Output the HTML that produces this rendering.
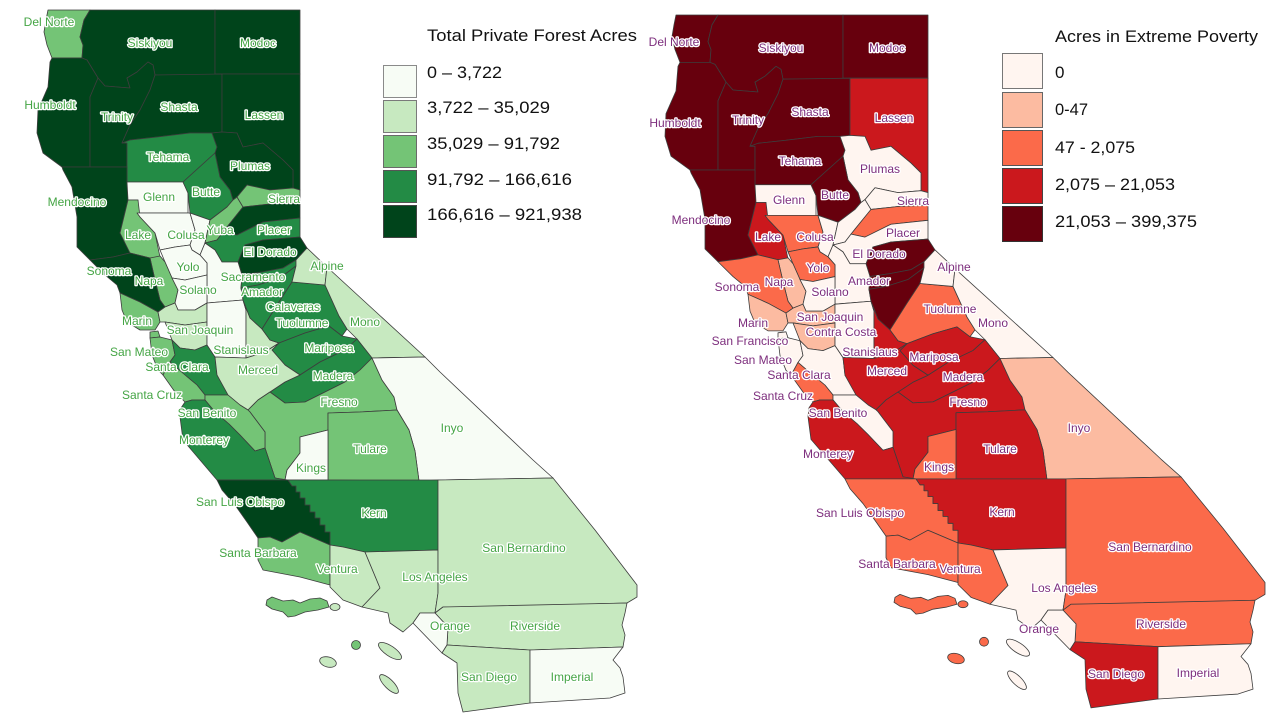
<!DOCTYPE html>
<html><head><meta charset="utf-8"><style>
html,body{margin:0;padding:0;background:#fff;}
svg{display:block;}
.lbl text{font-family:"Liberation Sans",Arial,sans-serif;font-size:12px;text-anchor:middle;paint-order:stroke;stroke:#fff;stroke-width:2.6px;stroke-linejoin:round;}
.lg text{font-family:"Liberation Sans",Arial,sans-serif;font-size:17px;fill:#111;}
</style></head><body>
<svg width="1280" height="720" viewBox="0 0 1280 720" xmlns="http://www.w3.org/2000/svg">
<defs>
<polygon id="dn" points="48,10 90,10 84,20 80,37 83,45 82,58 52,58 47,45 44,32 46,20"/>
<polygon id="sk" points="90,10 215,10 215,75 155,75 153,65 148,62 137,72 127,78 130,88 105,86 98,78 87,60 82,58 83,45 80,37 84,20"/>
<polygon id="mo" points="215,10 300,10 300,74 215,74"/>
<polygon id="hu" points="52,58 82,58 87,60 98,78 90,97 90,167 62,167 43,153 37,133 38,110 48,87 50,62"/>
<polygon id="tr" points="98,78 105,86 130,88 127,78 137,72 148,62 153,65 155,75 150,90 140,110 130,125 122,143 127,143 127,167 90,167 90,97"/>
<polygon id="sh" points="155,75 222,74 222,132 212,133 190,133 157,137 130,140 122,143 130,125 140,110 150,90"/>
<polygon id="la" points="222,74 300,74 300,190 293,188 293,170 283,160 263,143 243,147 237,133 222,132"/>
<polygon id="te" points="122,143 130,140 157,137 190,133 212,133 217,147 215,153 183,182 127,182 127,167 127,143"/>
<polygon id="pl" points="212,133 222,132 237,133 243,147 263,143 283,160 293,170 293,188 270,190 247,185 237,197 233,200 230,190 220,177 215,153 217,147"/>
<polygon id="me" points="62,167 127,167 127,182 128,200 120,233 130,253 113,257 90,260 77,247 77,217 72,187 63,170"/>
<polygon id="gl" points="127,182 183,182 188,193 188,213 137,213 138,200 128,200"/>
<polygon id="bu" points="215,153 220,177 230,190 233,200 227,207 210,220 190,213 188,193 183,182"/>
<polygon id="lk" points="128,200 138,200 140,217 155,233 160,257 150,258 130,253 120,233"/>
<polygon id="co" points="137,213 188,213 190,213 195,230 190,245 175,247 160,250 155,233 140,217"/>
<polygon id="su" points="190,213 210,220 205,243 200,255 192,250 190,245 195,230"/>
<polygon id="yu" points="210,220 227,207 233,200 237,197 243,207 227,227 217,240 205,243"/>
<polygon id="si" points="237,197 247,185 270,190 293,188 300,190 300,203 270,204 243,207"/>
<polygon id="ne" points="243,207 270,204 300,203 300,218 263,222 237,235 223,232 227,227"/>
<polygon id="pc" points="205,243 217,240 223,232 237,235 263,222 300,218 300,237 263,240 245,245 238,262 222,262 215,250"/>
<polygon id="ed" points="238,262 245,245 263,240 300,237 307,248 296,260 283,268 262,272 242,275"/>
<polygon id="sa" points="200,255 205,243 215,250 222,262 238,262 242,275 241,288 243,300 207,303 207,285 207,263"/>
<polygon id="yo" points="160,250 175,247 190,245 192,250 200,255 207,263 207,275 185,280 172,278 165,262"/>
<polygon id="na" points="150,258 160,256 165,262 172,278 178,290 175,303 165,307 160,300 155,280"/>
<polygon id="so" points="90,260 113,257 130,253 150,258 155,280 160,300 165,307 158,312 140,302 120,293 117,285 105,275"/>
<polygon id="sl" points="172,278 185,280 207,275 207,303 195,310 178,310 175,303 178,290"/>
<polygon id="ma" points="120,293 140,302 158,312 160,322 155,330 140,330 127,322 122,310"/>
<polygon id="cc" points="158,312 165,307 175,303 178,310 195,310 207,303 207,322 185,325 165,322 160,322"/>
<polygon id="al" points="165,322 185,325 207,322 207,345 195,350 180,348 172,340"/>
<polygon id="sf" points="150,332 158,331 160,337 150,338"/>
<polygon id="sm" points="150,338 160,337 172,340 175,355 170,362 163,375 158,370 152,355"/>
<polygon id="sc" points="172,340 180,348 195,350 207,345 215,357 217,375 228,380 228,395 205,395 197,385 185,375 170,362 175,355"/>
<polygon id="cz" points="163,375 170,362 185,375 197,385 205,395 205,400 192,400 185,402 175,392"/>
<polygon id="sj" points="207,303 243,300 246,310 246,358 215,357 207,345 207,322"/>
<polygon id="st" points="243,300 250,318 262,329 270,340 279,343 265,352 246,358 246,310"/>
<polygon id="am" points="242,275 262,272 283,268 296,260 296,266 280,278 258,285 241,288"/>
<polygon id="cv" points="241,288 258,285 280,278 296,266 292,282 279,302 262,329 250,318 245,305 243,300"/>
<polygon id="tu" points="262,329 279,302 292,282 325,285 339,316 347,329 342,336 329,326 305,333 279,343 270,340"/>
<polygon id="ap" points="296,260 307,248 327,267 325,285 292,282 296,266"/>
<polygon id="mn" points="327,267 425,357 372,358 357,339 347,329 339,316 325,285"/>
<polygon id="mp" points="279,343 305,333 329,326 342,336 357,339 345,350 320,362 300,375 285,365 272,350"/>
<polygon id="md" points="300,375 320,362 345,350 357,339 372,358 360,370 345,382 325,392 305,402 285,403 270,392 285,382"/>
<polygon id="mc" points="215,357 246,358 265,352 279,343 272,350 285,365 300,375 285,382 270,392 258,400 248,410 240,405 228,395 217,375"/>
<polygon id="fr" points="248,410 258,400 270,392 285,403 305,402 325,392 345,382 360,370 372,358 382,380 394,397 397,410 360,412 328,413 328,430 300,437 300,453 287,470 285,480 275,478 265,448 265,432 250,412"/>
<polygon id="in" points="372,358 425,357 440,372 533,460 553,478 438,480 419,481 415,451 409,430 397,410 394,397 382,380"/>
<polygon id="tl" points="328,413 360,412 397,410 409,430 415,451 419,481 328,480"/>
<polygon id="ki" points="300,437 328,430 328,480 285,480 287,470 300,453"/>
<polygon id="sb" points="205,395 228,395 240,405 248,410 250,412 265,432 265,448 255,451 240,435 229,424 215,412 205,400"/>
<polygon id="mt" points="185,402 192,400 205,400 215,412 229,424 240,435 255,451 265,448 275,478 288,480 217,480 200,460 183,440 180,417 181,408"/>
<polygon id="lo" points="217,480 288,480 292,486 296,486 296,492 300,492 300,498 305,498 305,505 310,505 310,512 315,512 315,518 320,518 320,525 325,525 325,532 330,532 330,545 300,532 282,542 270,537 258,538 247,522 235,505 222,490"/>
<polygon id="ke" points="288,480 438,480 438,550 365,552 343,547 330,545 330,532 325,532 325,525 320,525 320,518 315,518 315,512 310,512 310,505 305,505 305,498 300,498 300,492 296,492 296,486 292,486"/>
<polygon id="ba" points="258,538 270,537 282,542 300,532 330,545 330,585 300,577 263,570 258,560"/>
<polygon id="ve" points="330,545 343,547 365,552 380,588 362,607 343,600 330,587"/>
<polygon id="lx" points="365,552 438,550 438,593 435,613 420,613 413,623 403,632 390,623 388,613 362,607 380,588"/>
<polygon id="bd" points="438,480 553,478 595,530 637,585 637,597 627,603 480,607 443,607 435,613 438,593"/>
<polygon id="rv" points="443,607 627,603 625,613 622,625 625,635 623,647 530,650 447,645 448,627 435,613"/>
<polygon id="or" points="420,613 435,613 448,627 447,645 442,653 413,623"/>
<polygon id="sd" points="447,645 530,650 530,703 463,712 458,693 457,663 442,653"/>
<polygon id="im" points="530,650 623,647 613,660 620,668 623,677 625,693 610,698 530,703"/>
<polygon id="is1" points="267,600 272,597 283,601 293,600 300,603 310,599 320,598 327,601 329,607 318,610 305,612 295,616 288,617 283,612 272,609 266,605"/>
<ellipse id="is2" cx="335" cy="607" rx="5" ry="3.5"/>
<circle id="is3" cx="356" cy="645" r="4.5"/>
<ellipse id="is4" cx="390" cy="651" rx="13.5" ry="5" transform="rotate(34 390 651)"/>
<ellipse id="is5" cx="328" cy="662" rx="8.5" ry="5" transform="rotate(15 328 662)"/>
<ellipse id="is6" cx="389" cy="684" rx="12.5" ry="4.5" transform="rotate(45 389 684)"/>
</defs>

<!-- LEFT MAP -->
<g stroke="#3d3d3d" stroke-width="0.8" stroke-linejoin="round">
<use href="#dn" fill="#74c476"/><use href="#sk" fill="#00441b"/><use href="#mo" fill="#00441b"/>
<use href="#hu" fill="#00441b"/><use href="#tr" fill="#00441b"/><use href="#sh" fill="#00441b"/>
<use href="#la" fill="#00441b"/><use href="#te" fill="#238b45"/><use href="#pl" fill="#00441b"/>
<use href="#me" fill="#00441b"/><use href="#gl" fill="#f7fcf5"/><use href="#bu" fill="#238b45"/>
<use href="#lk" fill="#74c476"/><use href="#co" fill="#f7fcf5"/><use href="#su" fill="#f7fcf5"/>
<use href="#yu" fill="#74c476"/><use href="#si" fill="#74c476"/><use href="#ne" fill="#00441b"/>
<use href="#pc" fill="#238b45"/><use href="#ed" fill="#00441b"/><use href="#sa" fill="#f7fcf5"/>
<use href="#yo" fill="#f7fcf5"/><use href="#na" fill="#74c476"/><use href="#so" fill="#00441b"/>
<use href="#sl" fill="#f7fcf5"/><use href="#ma" fill="#74c476"/><use href="#cc" fill="#c7e9c0"/>
<use href="#al" fill="#c7e9c0"/><use href="#sf" fill="#74c476"/><use href="#sm" fill="#74c476"/>
<use href="#sc" fill="#238b45"/><use href="#cz" fill="#74c476"/><use href="#sj" fill="#f7fcf5"/>
<use href="#st" fill="#c7e9c0"/><use href="#am" fill="#238b45"/><use href="#cv" fill="#238b45"/>
<use href="#tu" fill="#238b45"/><use href="#ap" fill="#c7e9c0"/><use href="#mn" fill="#c7e9c0"/>
<use href="#mp" fill="#238b45"/><use href="#md" fill="#238b45"/><use href="#mc" fill="#c7e9c0"/>
<use href="#fr" fill="#74c476"/><use href="#in" fill="#f7fcf5"/><use href="#tl" fill="#74c476"/>
<use href="#ki" fill="#f7fcf5"/><use href="#sb" fill="#74c476"/><use href="#mt" fill="#238b45"/>
<use href="#lo" fill="#00441b"/><use href="#ke" fill="#238b45"/><use href="#ba" fill="#74c476"/>
<use href="#ve" fill="#c7e9c0"/><use href="#lx" fill="#c7e9c0"/><use href="#bd" fill="#c7e9c0"/>
<use href="#rv" fill="#c7e9c0"/><use href="#or" fill="#f7fcf5"/><use href="#sd" fill="#c7e9c0"/>
<use href="#im" fill="#f7fcf5"/>
<use href="#is1" fill="#74c476"/><use href="#is2" fill="#c7e9c0"/><use href="#is3" fill="#74c476"/>
<use href="#is4" fill="#c7e9c0"/><use href="#is5" fill="#c7e9c0"/><use href="#is6" fill="#c7e9c0"/>
</g>

<!-- RIGHT MAP -->
<g transform="matrix(1 0 0 0.987 628 5.13)" stroke="#3d3d3d" stroke-width="0.8" stroke-linejoin="round">
<use href="#dn" fill="#67000d"/><use href="#sk" fill="#67000d"/><use href="#mo" fill="#67000d"/>
<use href="#hu" fill="#67000d"/><use href="#tr" fill="#67000d"/><use href="#sh" fill="#67000d"/>
<use href="#la" fill="#cb181d"/><use href="#te" fill="#67000d"/><use href="#pl" fill="#fff5f0"/>
<use href="#me" fill="#67000d"/><use href="#gl" fill="#fff5f0"/><use href="#bu" fill="#67000d"/>
<use href="#lk" fill="#cb181d"/><use href="#co" fill="#fb6a4a"/><use href="#su" fill="#fff5f0"/>
<use href="#yu" fill="#fff5f0"/><use href="#si" fill="#fff5f0"/><use href="#ne" fill="#fb6a4a"/>
<use href="#pc" fill="#fff5f0"/><use href="#ed" fill="#67000d"/><use href="#sa" fill="#fff5f0"/>
<use href="#yo" fill="#fb6a4a"/><use href="#na" fill="#fcbba1"/><use href="#so" fill="#fb6a4a"/>
<use href="#sl" fill="#fff5f0"/><use href="#ma" fill="#fcbba1"/><use href="#cc" fill="#fcbba1"/>
<use href="#al" fill="#fcbba1"/><use href="#sf" fill="#fff5f0"/><use href="#sm" fill="#fff5f0"/>
<use href="#sc" fill="#fff5f0"/><use href="#cz" fill="#fb6a4a"/><use href="#sj" fill="#fff5f0"/>
<use href="#st" fill="#cb181d"/><use href="#am" fill="#67000d"/><use href="#cv" fill="#67000d"/>
<use href="#tu" fill="#fb6a4a"/><use href="#ap" fill="#fff5f0"/><use href="#mn" fill="#fff5f0"/>
<use href="#mp" fill="#cb181d"/><use href="#md" fill="#cb181d"/><use href="#mc" fill="#cb181d"/>
<use href="#fr" fill="#cb181d"/><use href="#in" fill="#fcbba1"/><use href="#tl" fill="#cb181d"/>
<use href="#ki" fill="#fb6a4a"/><use href="#sb" fill="#fff5f0"/><use href="#mt" fill="#cb181d"/>
<use href="#lo" fill="#fb6a4a"/><use href="#ke" fill="#cb181d"/><use href="#ba" fill="#fb6a4a"/>
<use href="#ve" fill="#fb6a4a"/><use href="#lx" fill="#fff5f0"/><use href="#bd" fill="#fb6a4a"/>
<use href="#rv" fill="#fb6a4a"/><use href="#or" fill="#fff5f0"/><use href="#sd" fill="#cb181d"/>
<use href="#im" fill="#fff5f0"/>
<use href="#is1" fill="#fb6a4a"/><use href="#is2" fill="#fb6a4a"/><use href="#is3" fill="#fb6a4a"/>
<use href="#is4" fill="#fff5f0"/><use href="#is5" fill="#fb6a4a"/><use href="#is6" fill="#fff5f0"/>
</g>

<!-- LEFT LABELS -->
<g class="lbl" fill="#45a545">
<text x="49" y="22" dy="0.35em">Del Norte</text>
<text x="150" y="43" dy="0.35em">Siskiyou</text>
<text x="258" y="43" dy="0.35em">Modoc</text>
<text x="50" y="105" dy="0.35em">Humboldt</text>
<text x="117" y="117" dy="0.35em">Trinity</text>
<text x="179" y="107" dy="0.35em">Shasta</text>
<text x="264" y="115" dy="0.35em">Lassen</text>
<text x="168" y="157" dy="0.35em">Tehama</text>
<text x="250" y="166" dy="0.35em">Plumas</text>
<text x="206" y="192" dy="0.35em">Butte</text>
<text x="159" y="197" dy="0.35em">Glenn</text>
<text x="284" y="199" dy="0.35em">Sierra</text>
<text x="77" y="202" dy="0.35em">Mendocino</text>
<text x="138" y="235" dy="0.35em">Lake</text>
<text x="186" y="235" dy="0.35em">Colusa</text>
<text x="220" y="230" dy="0.35em">Yuba</text>
<text x="274" y="230" dy="0.35em">Placer</text>
<text x="270" y="252" dy="0.35em">El Dorado</text>
<text x="188" y="267" dy="0.35em">Yolo</text>
<text x="109" y="271" dy="0.35em">Sonoma</text>
<text x="327" y="266" dy="0.35em">Alpine</text>
<text x="149" y="281" dy="0.35em">Napa</text>
<text x="253" y="277" dy="0.35em">Sacramento</text>
<text x="198" y="290" dy="0.35em">Solano</text>
<text x="262" y="292" dy="0.35em">Amador</text>
<text x="293" y="307" dy="0.35em">Calaveras</text>
<text x="137" y="321" dy="0.35em">Marin</text>
<text x="302" y="323" dy="0.35em">Tuolumne</text>
<text x="365" y="322" dy="0.35em">Mono</text>
<text x="200" y="330" dy="0.35em">San Joaquin</text>
<text x="139" y="352" dy="0.35em">San Mateo</text>
<text x="241" y="350" dy="0.35em">Stanislaus</text>
<text x="329" y="348" dy="0.35em">Mariposa</text>
<text x="177" y="367" dy="0.35em">Santa Clara</text>
<text x="258" y="370" dy="0.35em">Merced</text>
<text x="333" y="376" dy="0.35em">Madera</text>
<text x="152" y="395" dy="0.35em">Santa Cruz</text>
<text x="339" y="402" dy="0.35em">Fresno</text>
<text x="207" y="413" dy="0.35em">San Benito</text>
<text x="452" y="428" dy="0.35em">Inyo</text>
<text x="204" y="440" dy="0.35em">Monterey</text>
<text x="370" y="449" dy="0.35em">Tulare</text>
<text x="311" y="468" dy="0.35em">Kings</text>
<text x="240" y="502" dy="0.35em">San Luis Obispo</text>
<text x="374" y="513" dy="0.35em">Kern</text>
<text x="258" y="553" dy="0.35em">Santa Barbara</text>
<text x="524" y="548" dy="0.35em">San Bernardino</text>
<text x="337" y="569" dy="0.35em">Ventura</text>
<text x="435" y="577" dy="0.35em">Los Angeles</text>
<text x="450" y="626" dy="0.35em">Orange</text>
<text x="535" y="626" dy="0.35em">Riverside</text>
<text x="489" y="677" dy="0.35em">San Diego</text>
<text x="572" y="677" dy="0.35em">Imperial</text>
</g>

<!-- RIGHT LABELS -->
<g class="lbl" fill="#7d2e7d">
<text x="674" y="42" dy="0.35em">Del Norte</text>
<text x="781" y="48" dy="0.35em">Siskiyou</text>
<text x="887" y="48" dy="0.35em">Modoc</text>
<text x="675" y="123" dy="0.35em">Humboldt</text>
<text x="748" y="120" dy="0.35em">Trinity</text>
<text x="810" y="112" dy="0.35em">Shasta</text>
<text x="894" y="118" dy="0.35em">Lassen</text>
<text x="800" y="161" dy="0.35em">Tehama</text>
<text x="880" y="169" dy="0.35em">Plumas</text>
<text x="835" y="195" dy="0.35em">Butte</text>
<text x="789" y="200" dy="0.35em">Glenn</text>
<text x="913" y="201" dy="0.35em">Sierra</text>
<text x="701" y="220" dy="0.35em">Mendocino</text>
<text x="903" y="233" dy="0.35em">Placer</text>
<text x="768" y="237" dy="0.35em">Lake</text>
<text x="815" y="237" dy="0.35em">Colusa</text>
<text x="879" y="254" dy="0.35em">El Dorado</text>
<text x="818" y="268" dy="0.35em">Yolo</text>
<text x="954" y="267" dy="0.35em">Alpine</text>
<text x="869" y="281" dy="0.35em">Amador</text>
<text x="779" y="282" dy="0.35em">Napa</text>
<text x="737" y="287" dy="0.35em">Sonoma</text>
<text x="830" y="292" dy="0.35em">Solano</text>
<text x="950" y="309" dy="0.35em">Tuolumne</text>
<text x="830" y="317" dy="0.35em">San Joaquin</text>
<text x="993" y="323" dy="0.35em">Mono</text>
<text x="753" y="323" dy="0.35em">Marin</text>
<text x="841" y="332" dy="0.35em">Contra Costa</text>
<text x="750" y="341" dy="0.35em">San Francisco</text>
<text x="870" y="352" dy="0.35em">Stanislaus</text>
<text x="934" y="357" dy="0.35em">Mariposa</text>
<text x="763" y="360" dy="0.35em">San Mateo</text>
<text x="887" y="371" dy="0.35em">Merced</text>
<text x="799" y="375" dy="0.35em">Santa Clara</text>
<text x="963" y="377" dy="0.35em">Madera</text>
<text x="783" y="396" dy="0.35em">Santa Cruz</text>
<text x="968" y="402" dy="0.35em">Fresno</text>
<text x="838" y="413" dy="0.35em">San Benito</text>
<text x="1079" y="428" dy="0.35em">Inyo</text>
<text x="1000" y="449" dy="0.35em">Tulare</text>
<text x="828" y="454" dy="0.35em">Monterey</text>
<text x="939" y="467" dy="0.35em">Kings</text>
<text x="1002" y="512" dy="0.35em">Kern</text>
<text x="860" y="513" dy="0.35em">San Luis Obispo</text>
<text x="1150" y="547" dy="0.35em">San Bernardino</text>
<text x="897" y="564" dy="0.35em">Santa Barbara</text>
<text x="960" y="569" dy="0.35em">Ventura</text>
<text x="1064" y="588" dy="0.35em">Los Angeles</text>
<text x="1161" y="624" dy="0.35em">Riverside</text>
<text x="1039" y="629" dy="0.35em">Orange</text>
<text x="1116" y="674" dy="0.35em">San Diego</text>
<text x="1198" y="673" dy="0.35em">Imperial</text>
</g>

<!-- LEFT LEGEND -->
<g class="lg">
<text x="427" y="41" textLength="210" lengthAdjust="spacingAndGlyphs">Total Private Forest Acres</text>
<rect x="383.5" y="65.5" width="33" height="32" fill="#f7fcf5" stroke="#8a8a8a" stroke-width="1"/>
<rect x="383.5" y="100.5" width="33" height="32" fill="#c7e9c0" stroke="#7a7a7a" stroke-width="1"/>
<rect x="383.5" y="135.5" width="33" height="32" fill="#74c476" stroke="#6a6a6a" stroke-width="1"/>
<rect x="383.5" y="170.5" width="33" height="32" fill="#238b45" stroke="#555" stroke-width="1"/>
<rect x="383.5" y="205.5" width="33" height="32" fill="#00441b" stroke="#444" stroke-width="1"/>
<text x="427" y="78" textLength="75" lengthAdjust="spacingAndGlyphs">0 – 3,722</text>
<text x="427" y="113" textLength="123" lengthAdjust="spacingAndGlyphs">3,722 – 35,029</text>
<text x="427" y="149" textLength="133" lengthAdjust="spacingAndGlyphs">35,029 – 91,792</text>
<text x="427" y="185" textLength="145" lengthAdjust="spacingAndGlyphs">91,792 – 166,616</text>
<text x="427" y="220" textLength="155" lengthAdjust="spacingAndGlyphs">166,616 – 921,938</text>
</g>

<!-- RIGHT LEGEND -->
<g class="lg">
<text x="1055" y="42" textLength="203" lengthAdjust="spacingAndGlyphs">Acres in Extreme Poverty</text>
<rect x="1002.5" y="53.5" width="40" height="35" fill="#fff5f0" stroke="#777" stroke-width="1"/>
<rect x="1002.5" y="92.5" width="40" height="35" fill="#fcbba1" stroke="#666" stroke-width="1"/>
<rect x="1002.5" y="130.5" width="40" height="35" fill="#fb6a4a" stroke="#555" stroke-width="1"/>
<rect x="1002.5" y="168.5" width="40" height="35" fill="#cb181d" stroke="#444" stroke-width="1"/>
<rect x="1002.5" y="206.5" width="40" height="35" fill="#67000d" stroke="#333" stroke-width="1"/>
<text x="1055" y="78">0</text>
<text x="1055" y="115" textLength="33" lengthAdjust="spacingAndGlyphs">0-47</text>
<text x="1055" y="153" textLength="80" lengthAdjust="spacingAndGlyphs">47 - 2,075</text>
<text x="1055" y="190" textLength="120" lengthAdjust="spacingAndGlyphs">2,075 – 21,053</text>
<text x="1055" y="227" textLength="142" lengthAdjust="spacingAndGlyphs">21,053 – 399,375</text>
</g>
</svg>
</body></html>
